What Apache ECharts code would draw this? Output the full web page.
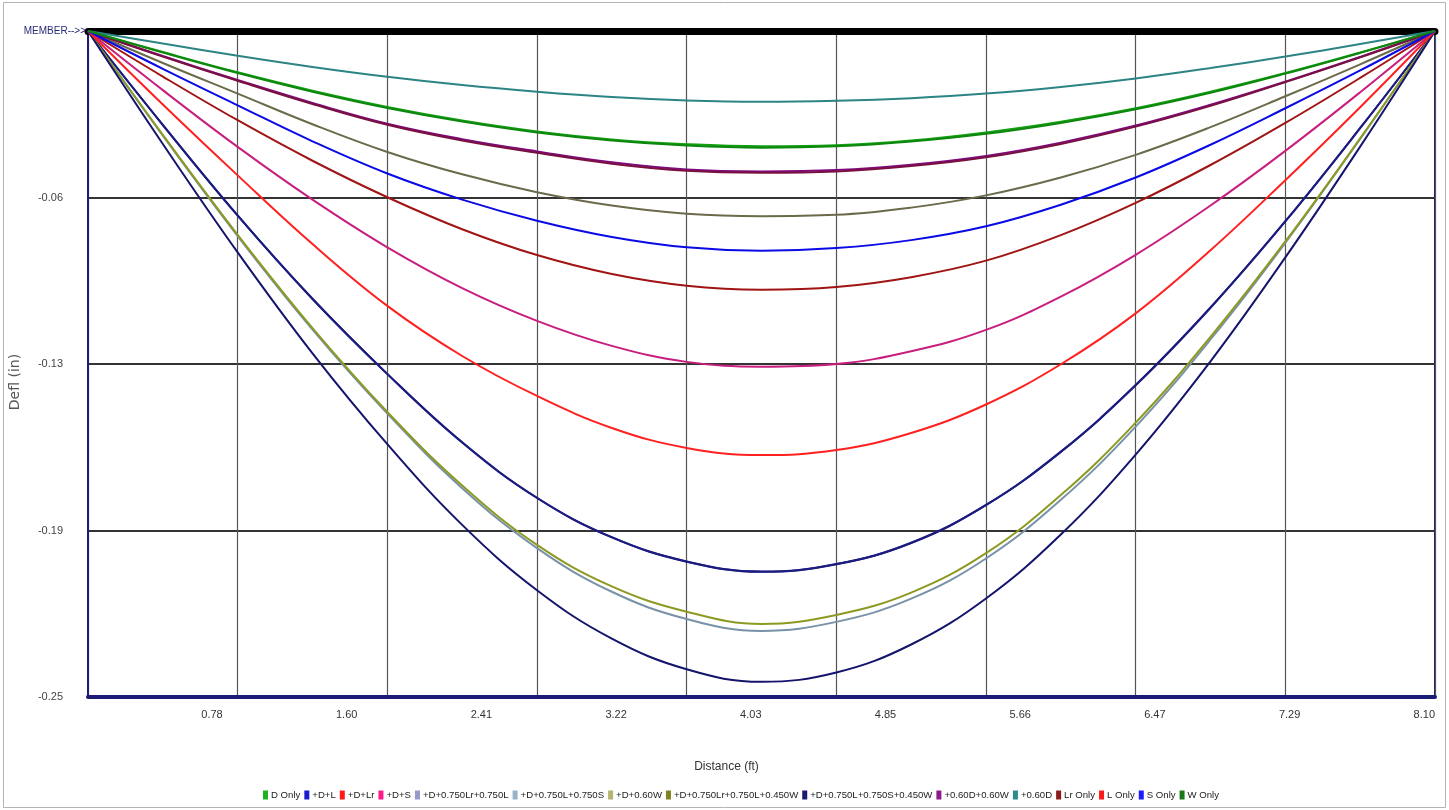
<!DOCTYPE html>
<html>
<head>
<meta charset="utf-8">
<script src="https://cdn.jsdelivr.net/npm/echarts@6/dist/echarts.min.js"></script>
<style>
html,body{margin:0;padding:0;background:#fff;}
#chart{width:1449px;height:810px;}
</style>
</head>
<body>
<div id="chart"></div>
<script>
// ---- data (deflection in inches) ----
const xs = [0,0.45,0.9,1.35,1.8,2.25,2.7,3.15,3.6,4.05,4.5,4.95,5.4,5.85,6.3,6.75,7.2,7.65,8.1];
const xTickLabels = ['0.78','1.60','2.41','3.22','4.03','4.85','5.66','6.47','7.29','8.10'];
const yTickLabels = ['-0.25','-0.19','-0.13','-0.06'];
const topLabel = 'MEMBER-->>';

const dOnly   = [0,-0.0079,-0.0155,-0.0224,-0.0285,-0.0336,-0.0377,-0.0407,-0.0425,-0.0433,-0.0429,-0.0411,-0.0381,-0.0341,-0.0290,-0.0228,-0.0158,-0.0081,0];
const dL      = [0,-0.0353,-0.0693,-0.1006,-0.1288,-0.1545,-0.1753,-0.1901,-0.1992,-0.2030,-0.2002,-0.1922,-0.1780,-0.1580,-0.1330,-0.1039,-0.0715,-0.0365,0];
const dLr     = [0,-0.0171,-0.0335,-0.0487,-0.0624,-0.0744,-0.0841,-0.0912,-0.0956,-0.0971,-0.0961,-0.0924,-0.0862,-0.0766,-0.0645,-0.0503,-0.0345,-0.0176,0];
const dS      = [0,-0.0222,-0.0435,-0.0633,-0.0812,-0.0965,-0.1088,-0.1182,-0.1242,-0.1260,-0.1250,-0.1202,-0.1122,-0.0997,-0.0840,-0.0655,-0.0450,-0.0230,0];
const dLrL    = [0,-0.0352,-0.0692,-0.1005,-0.1287,-0.1544,-0.1752,-0.1900,-0.1991,-0.2029,-0.2001,-0.1921,-0.1779,-0.1579,-0.1329,-0.1038,-0.0714,-0.0364,0];
const dLS     = [0,-0.0393,-0.0770,-0.1121,-0.1436,-0.1716,-0.1941,-0.2105,-0.2207,-0.2252,-0.2218,-0.2131,-0.1980,-0.1760,-0.1485,-0.1158,-0.0795,-0.0405,0];
const d06W    = [0,-0.0120,-0.0235,-0.0350,-0.0454,-0.0538,-0.0605,-0.0655,-0.0686,-0.0695,-0.0690,-0.0663,-0.0617,-0.0550,-0.0465,-0.0361,-0.0245,-0.0125,0];
const dLrLW   = [0,-0.0390,-0.0765,-0.1115,-0.1430,-0.1706,-0.1929,-0.2085,-0.2180,-0.2226,-0.2192,-0.2108,-0.1960,-0.1742,-0.1470,-0.1148,-0.0790,-0.0403,0];
const dLSW    = [0,-0.0424,-0.0831,-0.1210,-0.1551,-0.1854,-0.2099,-0.2281,-0.2396,-0.2443,-0.2408,-0.2303,-0.2130,-0.1890,-0.1590,-0.1240,-0.0850,-0.0434,0];
const p06D06W = [0,-0.0094,-0.0184,-0.0270,-0.0348,-0.0406,-0.0452,-0.0493,-0.0520,-0.0527,-0.0522,-0.0502,-0.0469,-0.0419,-0.0355,-0.0277,-0.0190,-0.0097,0];
const p06D    = [0,-0.0047,-0.0093,-0.0135,-0.0172,-0.0203,-0.0228,-0.0248,-0.0261,-0.0266,-0.0262,-0.0252,-0.0235,-0.0210,-0.0178,-0.0139,-0.0096,-0.0049,0];
const lrOnly  = [0,-0.0096,-0.0187,-0.0274,-0.0352,-0.0411,-0.0457,-0.0498,-0.0525,-0.0532,-0.0527,-0.0507,-0.0474,-0.0424,-0.0359,-0.0281,-0.0192,-0.0099,0];
const lOnly   = [0,-0.0276,-0.0542,-0.0800,-0.1032,-0.1220,-0.1370,-0.1490,-0.1565,-0.1592,-0.1573,-0.1509,-0.1402,-0.1251,-0.1060,-0.0823,-0.0560,-0.0286,0];
const sOnly   = [0,-0.0142,-0.0279,-0.0414,-0.0535,-0.0633,-0.0712,-0.0773,-0.0812,-0.0825,-0.0815,-0.0785,-0.0733,-0.0652,-0.0550,-0.0427,-0.0290,-0.0148,0];
const wOnly   = [0,-0.0081,-0.0158,-0.0228,-0.0289,-0.0340,-0.0381,-0.0411,-0.0430,-0.0438,-0.0433,-0.0415,-0.0386,-0.0345,-0.0294,-0.0232,-0.0160,-0.0082,0];

const seriesNames = ['D Only','+D+L','+D+Lr','+D+S','+D+0.750Lr+0.750L','+D+0.750L+0.750S','+D+0.60W',
  '+D+0.750Lr+0.750L+0.450W','+D+0.750L+0.750S+0.450W','+0.60D+0.60W','+0.60D','Lr Only','L Only','S Only','W Only'];
const seriesValues = [dOnly,dL,dLr,dS,dLrL,dLS,d06W,dLrLW,dLSW,p06D06W,p06D,lrOnly,lOnly,sOnly,wOnly];
const legendColors = ['#1fb21f','#1a1ad0','#ff1a1a','#ff1a8c','#9a9ac8','#9ab2c8','#b4b470',
  '#828220','#1a1a72','#8c1a8c','#2a8c8c','#8c1a1a','#ff1a1a','#1a1aff','#1a7a1a'];
const lineColors = ['#12a012','#1c1c80','#a01414','#c81e7e','#1c1c80','#7892a8','#6b6b4b',
  '#8c9a22','#14146c','#7e0a7e','#2c8484','#7a1040','#ff2020','#0a0ae6','#0e870e'];

const chart = echarts.init(document.getElementById('chart'), null, {renderer:'canvas'});
const narrow = "'Liberation Sans Narrow', 'Liberation Sans', Arial, sans-serif";

const series = seriesNames.map((n,i)=>({
  name:n, type:'line', xAxisIndex:0, yAxisIndex:0,
  data: xs.map((x,k)=>[x, seriesValues[i][k]]),
  smooth:0.4, showSymbol:false, symbol:'none',
  lineStyle:{color:lineColors[i], width:2},
  itemStyle:{color:legendColors[i]},
  emphasis:{disabled:true}
}));

chart.setOption({
  animation:false,
  backgroundColor:'#fff',
  graphic:[{type:'rect', shape:{x:3.5,y:2.5,width:1442,height:805}, style:{fill:null, stroke:'#b4b4b4', lineWidth:1}, silent:true}],
  grid:{left:87, right:14, top:31, bottom:113, show:true, borderColor:'#1c1c78', borderWidth:2, backgroundColor:'#fff'},
  legend:{
    data: seriesNames.map((n,i)=>({name:n, itemStyle:{color:legendColors[i]}})),
    top:790, left:263, icon:'rect', itemWidth:5, itemHeight:9, itemGap:4,
    padding:0,
    textStyle:{fontFamily:narrow, fontSize:9.6, color:'#222', padding:[0,0,0,-2]}
  },
  xAxis:[{
    type:'value', position:'bottom', min:0, max:8.1, interval:0.81,
    name:'Distance (ft)', nameLocation:'middle', nameGap:64,
    nameTextStyle:{fontFamily:narrow, fontSize:12, color:'#333', padding:[0,70,0,0]},
    axisLine:{show:true, onZero:false, lineStyle:{color:'#1c1c78', width:4}},
    axisTick:{show:false}, splitLine:{show:false},
    axisLabel:{showMinLabel:false, align:'right', margin:12, fontFamily:narrow, fontSize:11, color:'#333',
      formatter:function(v){const k=Math.round(v/0.81); return k>=1? xTickLabels[k-1]:'';}}
  },{
    type:'value', position:'top', min:0, max:8.1, interval:0.9,
    axisLine:{show:true, onZero:false, lineStyle:{color:'#000', width:7}},
    axisTick:{show:false}, axisLabel:{show:false},
    splitLine:{show:true, lineStyle:{color:'#555', width:1.2}}
  }],
  yAxis:[{
    type:'value', position:'left', min:-0.25, max:0, interval:0.0625,
    name:'Defl (in)', nameLocation:'middle', nameGap:66, nameRotate:90,
    nameTextStyle:{fontFamily:"'DejaVu Sans', sans-serif", fontSize:14, color:'#555', padding:[0,36,0,0]},
    axisLine:{show:true, onZero:false, lineStyle:{color:'#1c1c78', width:2}},
    axisTick:{show:false},
    splitLine:{show:true, lineStyle:{color:'#333', width:2}},
    axisLabel:{showMaxLabel:false, margin:25, fontFamily:narrow, fontSize:11, color:'#444',
      formatter:function(v){const k=Math.round((v+0.25)/0.0625); return k<yTickLabels.length? yTickLabels[k]:'';}}
  },{
    type:'value', position:'left', min:-0.25, max:0, interval:0.0625,
    axisLine:{show:false}, axisTick:{show:false}, splitLine:{show:false},
    axisLabel:{showMinLabel:false, margin:2, fontFamily:narrow, fontSize:10, color:'#2a2a7a',
      formatter:function(v){return Math.abs(v)<1e-9? topLabel:'';}}
  }],
  series: series
});
</script>
</body>
</html>
